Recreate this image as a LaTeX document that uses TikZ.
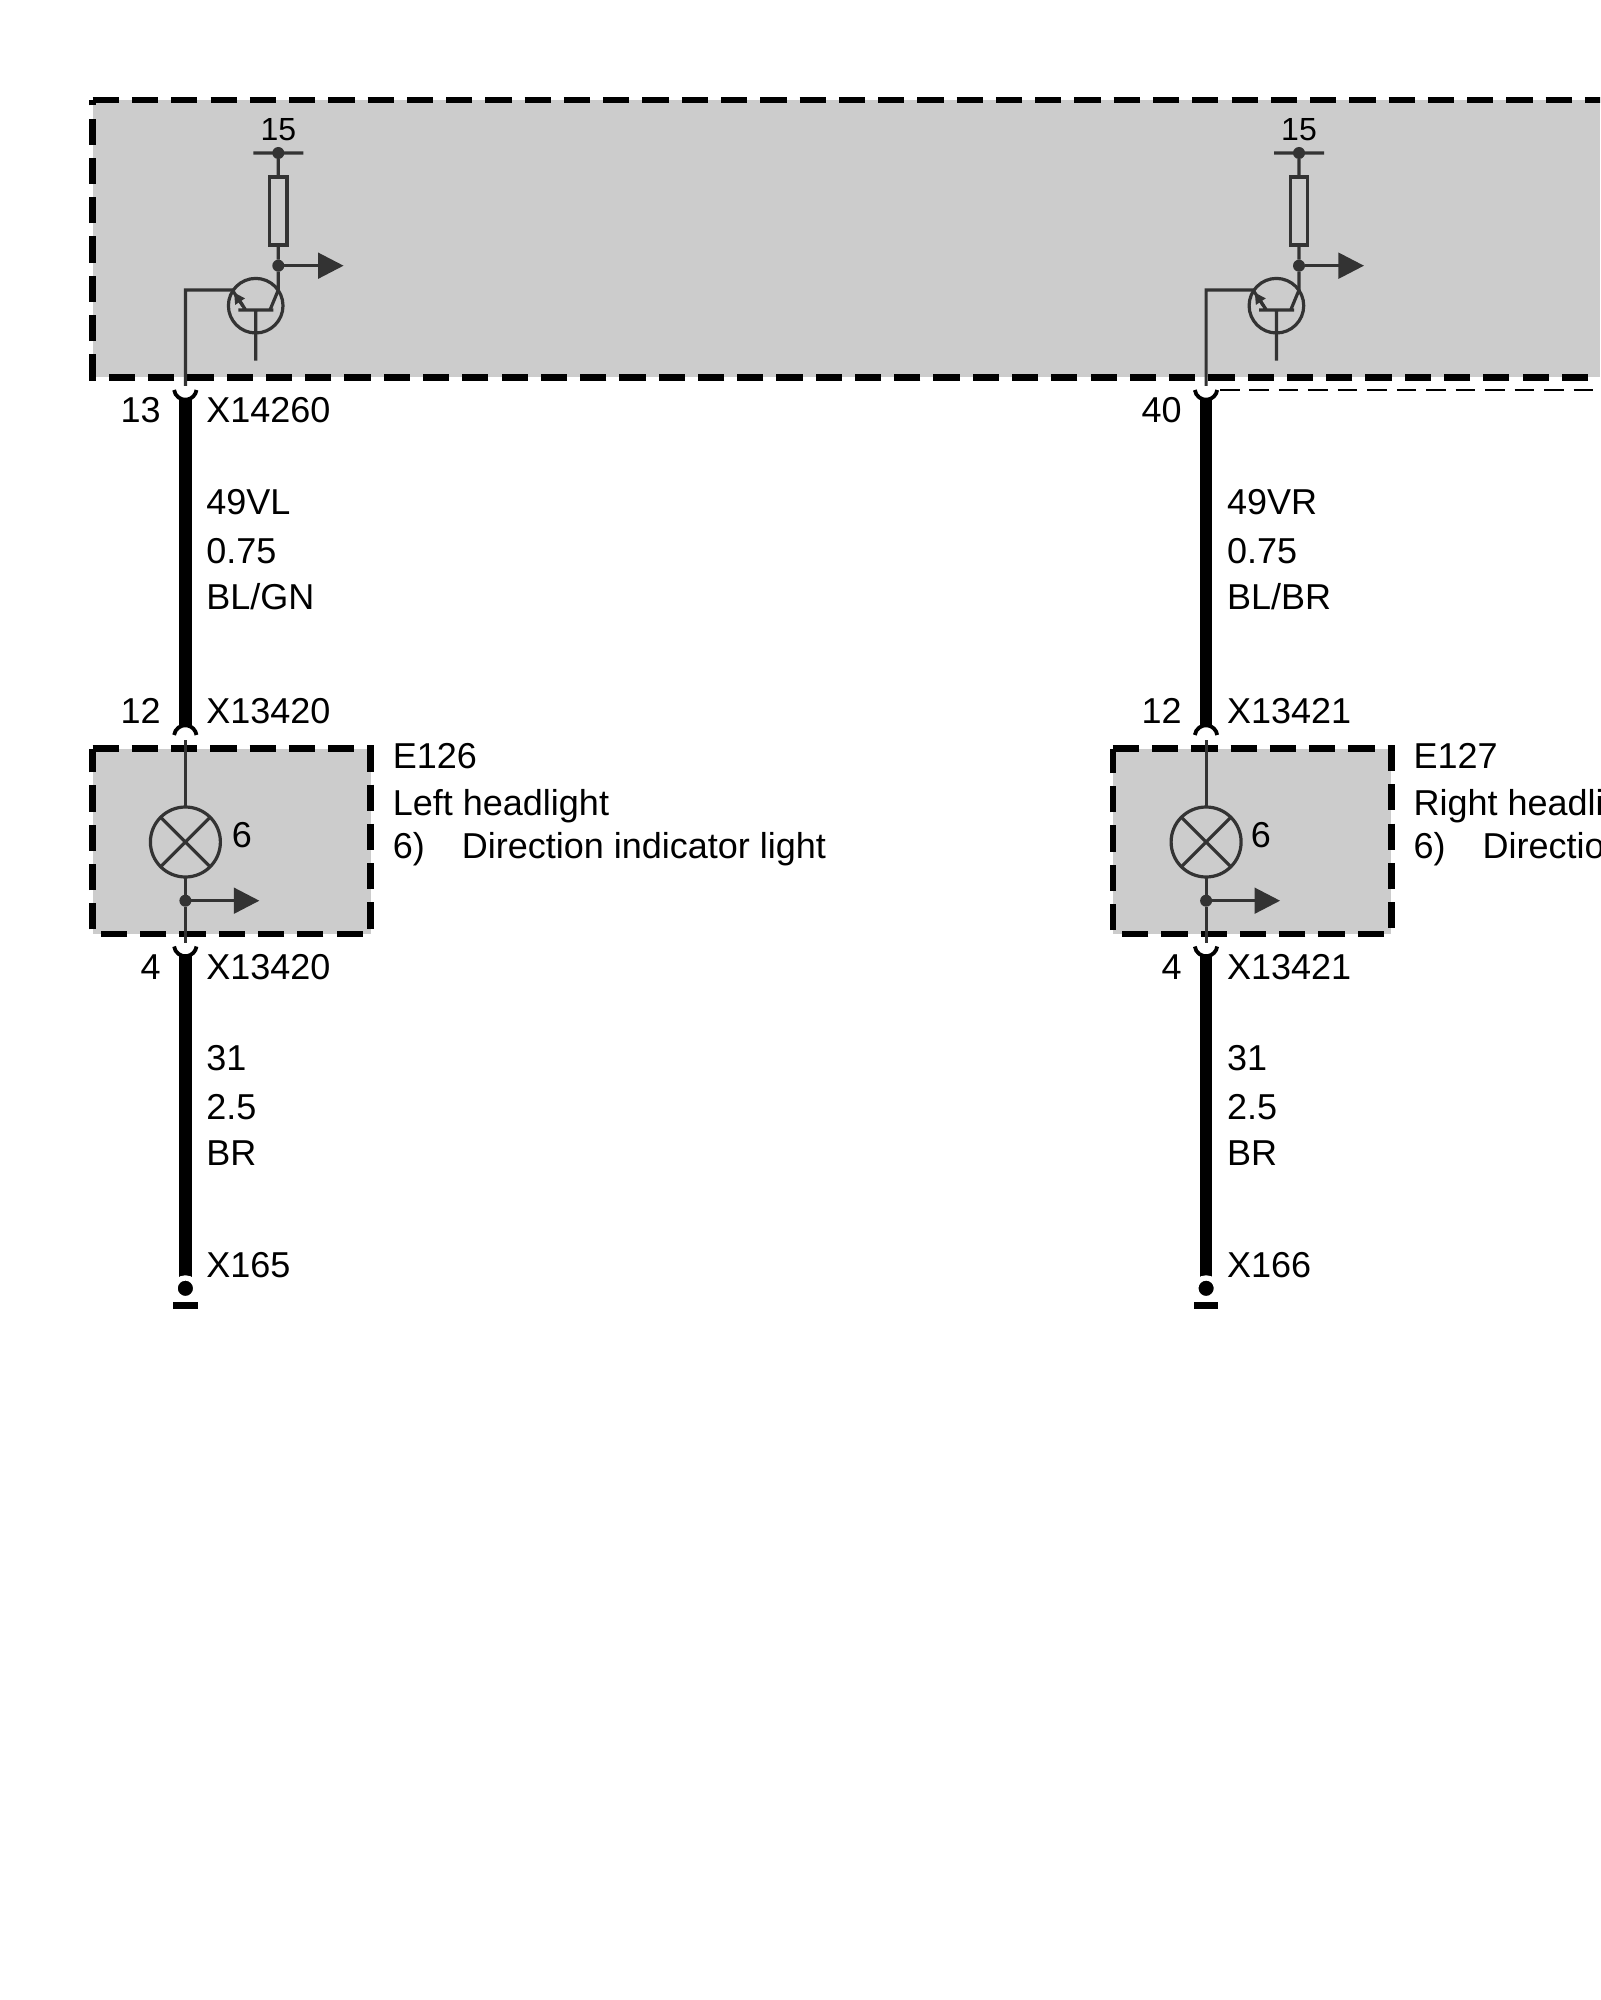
\documentclass[tikz,border=0pt]{standalone}
\usepackage{fontspec}
\setmainfont{Liberation Sans}
\usetikzlibrary{arrows.meta}
\definecolor{symbgray}{HTML}{333333}
\definecolor{boxgray}{HTML}{CCCCCC}
\begin{document}
\begin{tikzpicture}[x=.5pt,y=-.5pt,line join=miter,
	>={Triangle[length=12.8pt,width=12.8pt]},
	txt/.style={inner sep=0pt,anchor=base west,font=\fontsize{18}{20}\selectfont},
	pin/.style={inner sep=0pt,anchor=base east,font=\fontsize{18}{20}\selectfont},
	symtxt/.style={inner sep=0pt,font=\fontsize{16}{18}\selectfont},
	thinline/.style={draw=symbgray,line width=1.6pt},
	boxline/.style={draw=black,line width=3.3pt,dash pattern=on 13.1pt off 6.535pt},
	wire/.style={draw=black,line width=6.35pt},
	cup/.style={draw=black,line width=1.9pt},
	jdot/.style={circle,fill=symbgray,inner sep=0pt,outer sep=0pt,minimum size=6pt},
	tcircle/.style={circle,thinline,inner sep=0pt,outer sep=0pt,minimum size=27.3pt},
	lamp/.style={circle,thinline,inner sep=0pt,outer sep=0pt,minimum size=35pt},
	resistor/.style={rectangle,thinline,inner sep=0pt,outer sep=0pt,minimum width=8.6pt,minimum height=34pt},
	gnddot/.style={circle,fill=black,draw=white,line width=2.65pt,inner sep=0pt,outer sep=0pt,minimum size=10.35pt},
	gndbar/.style={rectangle,fill=black,inner sep=0pt,outer sep=0pt,minimum width=12.2pt,minimum height=3.2pt}]
	\useasboundingbox (0,0) rectangle (1600,2000);
	\clip (0,0) rectangle (1600,2000);

	\fill[boxgray] (92.7,100) rectangle (1600,377.3);
	\draw[boxline] (92.7,100)--(1700,100);
	\draw[boxline] (1705.8,377.3)--(92.7,377.3)--(92.7,100);
	\fill[boxgray] (92.5,748.5) rectangle (370.5,934);
	\draw[boxline] (92.5,748.5)--(370.5,748.5)--(370.5,934)--(92.5,934)--cycle;
	\fill[boxgray] (1112.8,748.5) rectangle (1391.2,934);
	\draw[boxline] (1112.8,748.5)--(1391.2,748.5)--(1391.2,934)--(1112.8,934)--cycle;

	\node[symtxt,anchor=base] (kl15a) at (278.3,141) {15};
	\node[jdot] (fusea) at (278.3,153) {};
	\coordinate (barla) at (253.3,153);
	\coordinate (barra) at (303.3,153);
	\node[resistor] (resa) at (278.3,211) {};
	\node[jdot] (juna) at (278.3,265.7) {};
	\coordinate (outa) at (343.6,265.7);
	\node[tcircle] (tra) at (255.7,305.7) {};
	\coordinate (colla) at (278.3,290);
	\coordinate (collb) at (270,310);
	\coordinate (basel) at (238.3,310);
	\coordinate (baser) at (273.3,310);
	\coordinate (basem) at (255.7,310);
	\coordinate (baset) at (255.7,360.7);
	\coordinate (emita) at (245.7,310);
	\coordinate (emitb) at (232.3,290);
	\coordinate (lina) at (185.4,290);
	\coordinate (linb) at (185.4,386);
	\draw[thinline] (barla)--(barra) (fusea)--(resa.north) (resa.south)--(juna)--(colla)--(collb);
	\draw[thinline,->] (juna)--(outa);
	\draw[thinline] (basel)--(baser) (basem)--(baset) (emita)--(emitb)--(lina)--(linb);
	\draw[thinline,-{Triangle[length=5.5pt,width=5.5pt]}] (243,306)--(234,292.5);

	\node[symtxt,anchor=base] (kl15b) at (1299,141) {15};
	\node[jdot] (fuseb) at (1299,153) {};
	\coordinate (barlb) at (1274,153);
	\coordinate (barrb) at (1324,153);
	\node[resistor] (resb) at (1299,211) {};
	\node[jdot] (junb) at (1299,265.7) {};
	\coordinate (outb) at (1364,265.7);
	\node[tcircle] (trb) at (1276.4,305.7) {};
	\coordinate (collc) at (1299,290);
	\coordinate (colld) at (1290.7,310);
	\coordinate (basea) at (1259,310);
	\coordinate (baseb) at (1294,310);
	\coordinate (basec) at (1276.4,310);
	\coordinate (based) at (1276.4,360.7);
	\coordinate (emitc) at (1266.4,310);
	\coordinate (emitd) at (1253,290);
	\coordinate (linc) at (1206.1,290);
	\coordinate (lind) at (1206.1,386);
	\draw[thinline] (barlb)--(barrb) (fuseb)--(resb.north) (resb.south)--(junb)--(collc)--(colld);
	\draw[thinline,->] (junb)--(outb);
	\draw[thinline] (basea)--(baseb) (basec)--(based) (emitc)--(emitd)--(linc)--(lind);
	\draw[thinline,-{Triangle[length=5.5pt,width=5.5pt]}] (1263.7,306)--(1254.7,292.5);

	\draw[cup] (174.1,390) arc (172:8:11.3);
	\draw[cup] (174.1,735) arc (188:352:11.3);
	\draw[cup] (174.1,946.5) arc (172:8:11.3);
	\draw[cup] (1194.8,390) arc (172:8:11.3);
	\draw[cup] (1194.8,735) arc (188:352:11.3);
	\draw[cup] (1194.8,946.5) arc (172:8:11.3);
	\coordinate (dasha) at (1220,390);
	\coordinate (dashb) at (1600,390);
	\draw[black,line width=1.4pt,dash pattern=on 9.75pt off 4.98pt] (dasha)--(dashb);

	\coordinate (wirea) at (185.4,398);
	\coordinate (wireb) at (185.4,726);
	\coordinate (wirec) at (185.4,955);
	\coordinate (wired) at (185.4,1288);
	\coordinate (wiree) at (1206.1,398);
	\coordinate (wiref) at (1206.1,726);
	\coordinate (wireg) at (1206.1,955);
	\coordinate (wireh) at (1206.1,1288);
	\draw[wire] (wirea)--(wireb) (wirec)--(wired) (wiree)--(wiref) (wireg)--(wireh);

	\node[lamp] (lampa) at (185.4,842) {};
	\node[txt] (lampna) at (231.5,847.5) {6};
	\node[jdot] (jlampa) at (185.4,900.7) {};
	\coordinate (inla) at (185.4,740);
	\coordinate (outla) at (185.4,943.3);
	\coordinate (arrla) at (259.4,900.7);
	\draw[thinline] (inla)--(lampa.north) (lampa.south)--(jlampa)--(outla);
	\draw[thinline] (lampa.45)--(lampa.225) (lampa.135)--(lampa.315);
	\draw[thinline,->] (jlampa)--(arrla);

	\node[lamp] (lampb) at (1206.1,842) {};
	\node[txt] (lampnb) at (1250.5,847.5) {6};
	\node[jdot] (jlampb) at (1206.1,900.7) {};
	\coordinate (inlb) at (1206.1,740);
	\coordinate (outlb) at (1206.1,943.3);
	\coordinate (arrlb) at (1280.1,900.7);
	\draw[thinline] (inlb)--(lampb.north) (lampb.south)--(jlampb)--(outlb);
	\draw[thinline] (lampb.45)--(lampb.225) (lampb.135)--(lampb.315);
	\draw[thinline,->] (jlampb)--(arrlb);

	\node[gnddot] (gnda) at (185.4,1288.3) {};
	\node[gndbar] (gbara) at (185.5,1305.5) {};
	\node[gnddot] (gndb) at (1206.1,1288.3) {};
	\node[gndbar] (gbarb) at (1206.2,1305.5) {};

	\node[pin] (p13) at (161,422.7) {13};
	\node[txt] (x14260) at (206,422.7) {X14260};
	\node[txt] (w49vl) at (206,514) {49VL};
	\node[txt] (w075a) at (206,563.7) {0.75};
	\node[txt] (wblgn) at (206,609.7) {BL/GN};
	\node[pin] (p12a) at (161,723.3) {12};
	\node[txt] (x13420a) at (206,723.3) {X13420};
	\node[txt] (e126) at (392.5,768.8) {E126};
	\node[txt] (lefth) at (392.5,815.5) {Left headlight};
	\node[txt] (sixa) at (392.5,858.8) {6)};
	\node[txt] (dira) at (461.5,858.8) {Direction indicator light};
	\node[pin] (p4a) at (161,979.3) {4};
	\node[txt] (x13420b) at (206,979.3) {X13420};
	\node[txt] (w31a) at (206,1070) {31};
	\node[txt] (w25a) at (206,1119.3) {2.5};
	\node[txt] (wbra) at (206,1165) {BR};
	\node[txt] (x165) at (206,1277.7) {X165};

	\node[pin] (p40) at (1182,422.7) {40};
	\node[txt] (w49vr) at (1226.7,514) {49VR};
	\node[txt] (w075b) at (1226.7,563.7) {0.75};
	\node[txt] (wblbr) at (1226.7,609.7) {BL/BR};
	\node[pin] (p12b) at (1182,723.3) {12};
	\node[txt] (x13421a) at (1226.7,723.3) {X13421};
	\node[txt] (e127) at (1413.2,768.8) {E127};
	\node[txt] (righth) at (1413.2,815.5) {Right headlight};
	\node[txt] (sixb) at (1413.2,858.8) {6)};
	\node[txt] (dirb) at (1482.2,858.8) {Direction indicator light};
	\node[pin] (p4b) at (1182,979.3) {4};
	\node[txt] (x13421b) at (1226.7,979.3) {X13421};
	\node[txt] (w31b) at (1226.7,1070) {31};
	\node[txt] (w25b) at (1226.7,1119.3) {2.5};
	\node[txt] (wbrb) at (1226.7,1165) {BR};
	\node[txt] (x166) at (1226.7,1277.7) {X166};
\end{tikzpicture}
\end{document}
